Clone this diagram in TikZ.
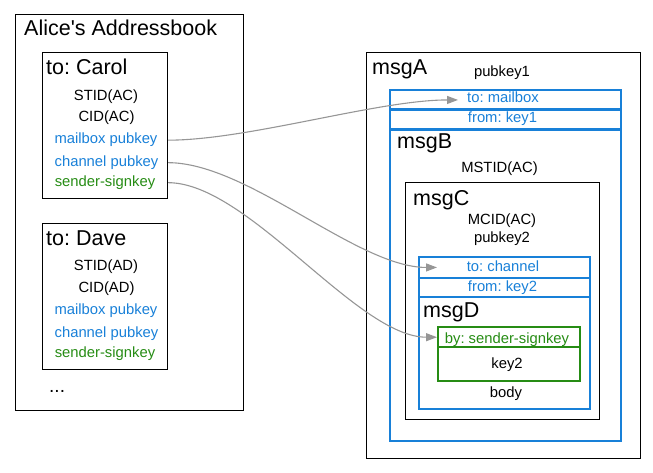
\documentclass[tikz,border=0pt]{standalone}
\usepackage{fontspec}
\setmainfont{Liberation Sans}
\usetikzlibrary{arrows.meta}
\definecolor{kblue}{RGB}{24,128,216}
\definecolor{kgreen}{RGB}{38,140,20}
\definecolor{kgray}{RGB}{150,150,150}
\frenchspacing
\begin{document}
\begin{tikzpicture}[x=1pt,y=-1pt,
  box/.style={draw, line width=1.1pt, anchor=north west, inner sep=0pt},
  bbox/.style={draw=kblue, line width=2.4pt, anchor=north west, inner sep=0pt},
  gbox/.style={draw=kgreen, line width=2.4pt, anchor=north west, inner sep=0pt},
  big/.style={font=\fontsize{21.5}{24}\selectfont, anchor=base west, inner sep=0pt},
  txt/.style={font=\fontsize{14.8}{17}\selectfont, anchor=base, inner sep=0pt},
  conn/.style={draw=kgray, line width=1.1pt, -{Triangle[length=11pt,width=8pt]}}
]
\useasboundingbox (0,0) rectangle (653,473);

% ---------- Alice's addressbook ----------
\node[box, minimum width=228pt, minimum height=396pt] (alice) at (15,14) {};
\node[big] (alicet) at (24,36) {Alice\textquotesingle s Addressbook};

\node[box, minimum width=125pt, minimum height=146pt] (carol) at (42,52) {};
\node[big] (carolt) at (46,75) {to: Carol};
\node[txt] (cstid) at (106,101) {STID(AC)};
\node[txt] (ccid) at (106.5,122) {CID(AC)};
\node[txt, text=kblue] (cmb) at (106,144) {mailbox pubkey};
\node[txt, text=kblue] (cch) at (106.5,166.5) {channel pubkey};
\node[txt, text=kgreen] (csk) at (105,186.5) {sender-signkey};

\node[box, minimum width=125pt, minimum height=146pt] (dave) at (42,223) {};
\node[big] (davet) at (46,245) {to: Dave};
\node[txt] (dstid) at (106,270) {STID(AD)};
\node[txt] (dcid) at (106.5,292) {CID(AD)};
\node[txt, text=kblue] (dmb) at (106,314) {mailbox pubkey};
\node[txt, text=kblue] (dch) at (106.5,337) {channel pubkey};
\node[txt, text=kgreen] (dsk) at (105,357) {sender-signkey};
\node[txt, anchor=base west, font=\fontsize{19}{21}\selectfont] (dots) at (49,392) {...};

% ---------- msgA ----------
\node[box, minimum width=274pt, minimum height=406pt] (msga) at (366,52) {};
\node[big] (msgat) at (372,75) {msgA};
\node[txt] (pk1) at (502,77) {pubkey1};

% msgB (blue)
\node[bbox, minimum width=231pt, minimum height=351pt] (msgb) at (389,89) {};
\node[bbox, minimum width=231pt, minimum height=19.5pt] (rowmail) at (389,89) {};
\node[bbox, minimum width=231pt, minimum height=20pt] (rowkey1) at (389,108.5) {};
\node[txt, text=kblue] (tomail) at (503,103) {to: mailbox};
\node[txt, text=kblue] (fromk1) at (502.5,123) {from: key1};
\node[big] (msgbt) at (397,149) {msgB};
\node[txt] (mstid) at (499.5,173) {MSTID(AC)};

% msgC
\node[box, minimum width=194pt, minimum height=237pt] (msgc) at (405,182) {};
\node[big] (msgct) at (413,205) {msgC};
\node[txt] (mcid) at (502,225) {MCID(AC)};
\node[txt] (pk2) at (502,243) {pubkey2};

% msgD (blue)
\node[bbox, minimum width=171pt, minimum height=152pt] (msgd) at (418,256) {};
\node[bbox, minimum width=171pt, minimum height=20.5pt] (rowchan) at (418,256) {};
\node[bbox, minimum width=171pt, minimum height=19.5pt] (rowkey2) at (418,276.5) {};
\node[txt, text=kblue] (tochan) at (503,271) {to: channel};
\node[txt, text=kblue] (fromk2) at (502.5,291) {from: key2};
\node[big] (msgdt) at (423,317) {msgD};

% signature (green)
\node[gbox, minimum width=142pt, minimum height=54pt] (sig) at (437,326) {};
\node[gbox, minimum width=142pt, minimum height=20pt] (sighead) at (437,326) {};
\node[txt, text=kgreen] (bysk) at (507,343) {by: sender-signkey};
\node[txt] (key2) at (507,368) {key2};
\node[txt] (body) at (506,397) {body};

% ---------- connectors ----------
\path[conn] (cmb.east -| carol.east) .. controls +(80,0) and +(-80,0) .. ([xshift=69pt]rowmail.west);
\path[conn] (cch.east -| carol.east) .. controls +(80,0) and +(-80,0) .. ([xshift=19pt]rowchan.west);
\path[conn] (csk.east -| carol.east) .. controls +(80,0) and +(-80,0) .. (sighead.west);
\end{tikzpicture}
\end{document}
